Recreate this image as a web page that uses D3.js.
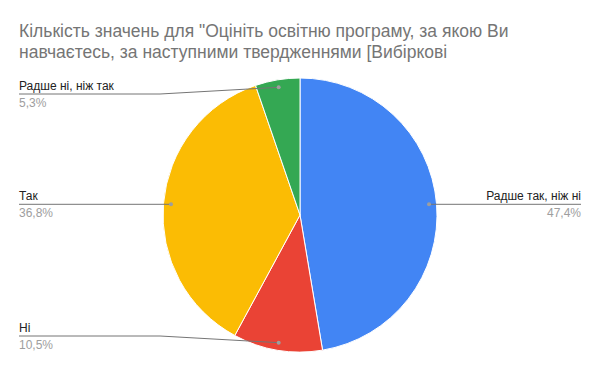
<!DOCTYPE html>
<html>
<head>
<meta charset="utf-8">
<script src="https://cdn.jsdelivr.net/npm/d3@7"></script>
<style>
  body { margin: 0; background: #fff; }
  text { font-family: Arial, "Liberation Sans", sans-serif; }
</style>
</head>
<body>
<svg id="chart" width="600" height="371"></svg>
<script>
// chart data
const categories = ['Радше так, ніж ні', 'Ні', 'Так', 'Радше ні, ніж так'];
const counts = [9, 2, 7, 1];
const colors = ['#4285f4', '#ea4335', '#fbbc04', '#34a853'];
const titleLines = [
	'Кількість значень для "Оцініть освітню програму, за якою Ви',
	'навчаєтесь, за наступними твердженнями [Вибіркові'
];

const width = 600, height = 371;
const cx = 300, cy = 215, radius = 137;

let svg = d3.select('#chart');

// title
svg.append('g')
	.selectAll('text')
	.data(titleLines)
	.enter()
	.append('text')
		.attr('x', 19)
		.attr('y', (d, i) => 37 + i * 21)
		.attr('fill', '#757575')
		.style('font-size', '17.5px')
		.text(d => d);

let total = d3.sum(counts);
let data = categories.map((c, i) => ({ name: c, value: counts[i], color: colors[i] }));

let pie = d3.pie()
	.value(d => d.value)
	.sort(null);

let arc = d3.arc()
	.innerRadius(0)
	.outerRadius(radius);

// dots sit just inside the rim
let dotArc = d3.arc()
	.innerRadius(radius * 0.945)
	.outerRadius(radius * 0.945);

let arcs = pie(data);

let pieGroup = svg.append('g')
	.attr('transform', `translate(${cx}, ${cy})`);

pieGroup.selectAll('path')
	.data(arcs)
	.enter()
	.append('path')
		.attr('d', arc)
		.attr('fill', d => d.data.color)
		.attr('stroke', '#fff')
		.attr('stroke-width', 1);

let fmt = v => (v * 100).toFixed(1).replace('.', ',') + '%';

// labels with leader lines
let labels = svg.append('g');

arcs.forEach(d => {
	let [dx, dy] = dotArc.centroid(d);
	let px = cx + dx, py = cy + dy;
	let right = px > cx;
	let lineY = Math.max(94, Math.min(336, py));
	let edgeX = right ? 581 : 19;
	let bendX = right ? cx + radius + 3 : cx - radius - 3;

	labels.append('path')
		.attr('d', `M${edgeX},${lineY}L${bendX},${lineY}L${px},${py}`)
		.attr('fill', 'none')
		.attr('stroke', '#757575')
		.attr('stroke-width', 1);

	labels.append('circle')
		.attr('cx', px)
		.attr('cy', py)
		.attr('r', 2)
		.attr('fill', '#9e9e9e');

	labels.append('text')
		.attr('x', edgeX)
		.attr('y', lineY - 4)
		.attr('text-anchor', right ? 'end' : 'start')
		.attr('fill', '#222')
		.style('font-size', '12px')
		.text(d.data.name);

	labels.append('text')
		.attr('x', edgeX)
		.attr('y', lineY + 13)
		.attr('text-anchor', right ? 'end' : 'start')
		.attr('fill', '#9e9e9e')
		.style('font-size', '12px')
		.text(fmt(d.data.value / total));
});
</script>
</body>
</html>
